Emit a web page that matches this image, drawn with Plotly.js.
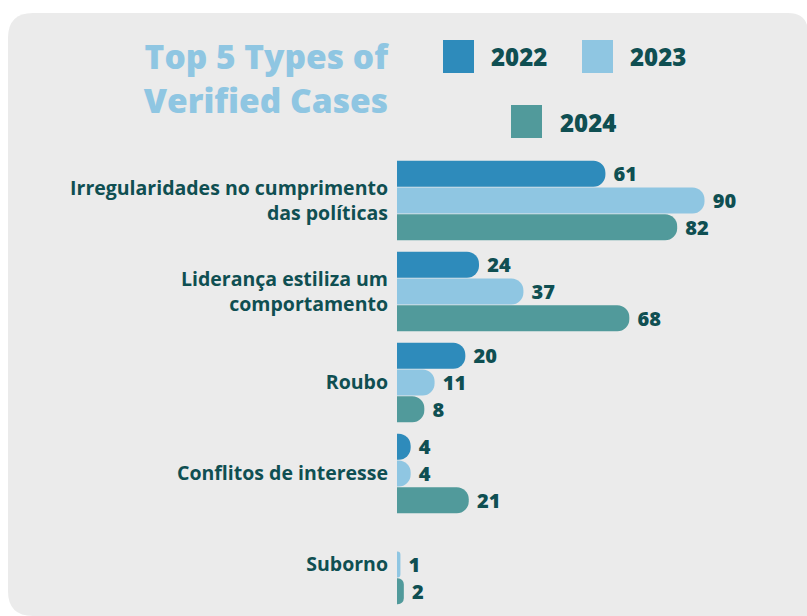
<!DOCTYPE html>
<html>
<head>
<meta charset="utf-8">
<script src="https://cdn.plot.ly/plotly-3.0.1.min.js"></script>
<style>html,body{margin:0;padding:0;background:#fff;}#chart{width:807px;height:616px;}</style>
</head>
<body>
<div id="chart"></div>
<script>
const categories = ["Irregularidades no cumprimento<br>das políticas", "Liderança estiliza um<br>comportamento", "Roubo", "Conflitos de interesse", "Suborno"];
const years = ["2022", "2023", "2024"];
const v2022 = [61, 24, 20, 4, null];
const v2023 = [90, 37, 11, 4, 1];
const v2024 = [82, 68, 8, 21, 2];
const series = [v2022, v2023, v2024];
const colors = ["#2e8bbb", "#8fc6e2", "#519a9b"];
const titleText = "Top 5 Types of<br>Verified Cases";

const W = 807, H = 616;
const M = {l: 397, r: 0, t: 155, b: 6};
const PW = W - M.l - M.r, PH = H - M.t - M.b;
const fx = px => (px - M.l) / PW;
const fy = py => 1 - (py - M.t) / PH;
const dark = "#0f4f52";
const font = "Open Sans, sans-serif";

const traces = years.map((yr, i) => ({
  type: "bar", orientation: "h", name: yr,
  y: categories, x: series[i],
  marker: {color: colors[i], line: {width: 0}, cornerradius: "50%"},
  texttemplate: " %{x}", textposition: "outside", cliponaxis: false,
  constraintext: "none",
  textfont: {family: font, size: 20, color: dark, weight: 800},
  hoverinfo: "skip", showlegend: false
}));

// background rounded panel
const L = 8, T = 13, R = 808, B = 616, r1 = 25, r2 = 20;
const pth = [
  `M${fx(L)},${fy(T + r1)}`,
  `Q${fx(L)},${fy(T)} ${fx(L + r1)},${fy(T)}`,
  `L${fx(R - r2)},${fy(T)}`,
  `Q${fx(R)},${fy(T)} ${fx(R)},${fy(T + r2)}`,
  `L${fx(R)},${fy(B)}`,
  `L${fx(L + r1)},${fy(B)}`,
  `Q${fx(L)},${fy(B)} ${fx(L)},${fy(B - r1)}`,
  "Z"
].join(" ");

const shapes = [{type: "path", xref: "paper", yref: "paper", path: pth, fillcolor: "#ebebeb", line: {width: 0}, layer: "below"}];
const annotations = [];
// custom legend
const legPos = [[443, 40, 489], [582, 40, 628], [511, 105, 558]];
years.forEach((yr, i) => {
  const [sx, sy, tx] = legPos[i];
  shapes.push({type: "rect", xref: "paper", yref: "paper", x0: fx(sx), x1: fx(sx + 31), y0: fy(sy), y1: fy(sy + 33), fillcolor: colors[i], line: {width: 0}});
  annotations.push({xref: "paper", yref: "paper", x: fx(tx), y: fy(sy + 17), xanchor: "left", yanchor: "middle", text: yr, showarrow: false, font: {family: font, size: 24, color: dark, weight: 800}});
});

const layout = {
  width: W, height: H, margin: M,
  paper_bgcolor: "#ffffff", plot_bgcolor: "rgba(0,0,0,0)",
  barmode: "group", bargap: 0.12, bargroupgap: 0.03,
  title: {text: titleText, x: 388 / W, xanchor: "right", xref: "container", y: 1 - 69 / H, yanchor: "top", yref: "container",
          font: {family: font, size: 33.5, color: "#8fc6e2", weight: 800}},
  xaxis: {range: [0, 120], visible: false, fixedrange: true},
  yaxis: {type: "category", autorange: "reversed", showgrid: false, zeroline: false, showline: false, ticks: "", ticklabelstandoff: 8,
          tickfont: {family: font, size: 19.5, color: dark, weight: 700}},
  shapes: shapes, annotations: annotations, showlegend: false
};

Plotly.newPlot("chart", traces, layout, {displayModeBar: false, staticPlot: true});
</script>
</body>
</html>
